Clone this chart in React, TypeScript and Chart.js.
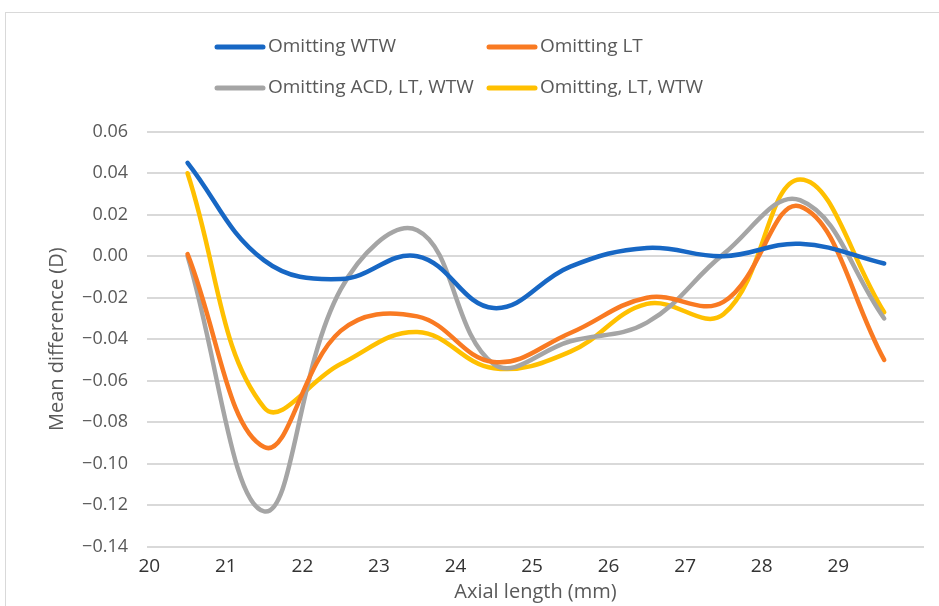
import React, { useEffect, useRef } from "react";
import { Chart, registerables } from "chart.js";

Chart.register(...registerables);

// Axial length (mm) at which each mean difference was computed
const axialLength = [20.5, 21.5, 22.5, 23.5, 24.5, 25.5, 26.5, 27.5, 28.5, 29.6];

// Mean difference (D) for each variant
const omittingWTW = [0.045, -0.002, -0.011, 0.0, -0.025, -0.005, 0.004, 0.0, 0.006, -0.0035];
const omittingLT = [0.001, -0.092, -0.036, -0.029, -0.051, -0.037, -0.02, -0.022, 0.024, -0.05];
const omittingACDLTWTW = [0.0, -0.123, -0.016, 0.0125, -0.052, -0.041, -0.032, 0.001, 0.027, -0.03];
const omittingLTWTW = [0.04, -0.073, -0.052, -0.0365, -0.054, -0.046, -0.023, -0.028, 0.037, -0.027];

const seriesLabels = ["Omitting WTW", "Omitting LT", "Omitting ACD, LT, WTW", "Omitting, LT, WTW"];
const seriesColors = ["#1767C4", "#F97A22", "#A5A5A5", "#FFC000"];
const seriesValues = [omittingWTW, omittingLT, omittingACDLTWTW, omittingLTWTW];

const xTickValues = [20, 21, 22, 23, 24, 25, 26, 27, 28, 29];
const yMin = -0.14;
const yMax = 0.06;
const yStep = 0.02;

const FONT = '"Open Sans", "Noto Sans", sans-serif';

const gridLegend = {
  id: "gridLegend",
  afterDraw(chart: any) {
    const ctx = chart.ctx;
    const cols = [215, 487];
    const rows = [47, 88];
    chart.data.datasets.forEach((ds: any, i: number) => {
      const x = cols[i % 2];
      const y = rows[Math.floor(i / 2)];
      ctx.save();
      ctx.strokeStyle = ds.borderColor;
      ctx.lineWidth = 5;
      ctx.lineCap = "round";
      ctx.beginPath();
      ctx.moveTo(x + 2, y);
      ctx.lineTo(x + 48, y);
      ctx.stroke();
      ctx.fillStyle = "#595959";
      ctx.font = `19px ${FONT}`;
      ctx.textBaseline = "middle";
      ctx.textAlign = "left";
      ctx.fillText(ds.label, x + 53, y);
      ctx.restore();
    });
  },
};

function formatY(v: number) {
  if (Math.abs(v) < 1e-9) return "0.00";
  return (v < 0 ? "\u2212" : "") + Math.abs(v).toFixed(2);
}

export default function App() {
  const canvasRef = useRef<HTMLCanvasElement | null>(null);

  useEffect(() => {
    if (!canvasRef.current) return;
    const datasets = seriesLabels.map((label, i) => ({
      label,
      data: axialLength.map((x, j) => ({ x, y: seriesValues[i][j] })),
      borderColor: seriesColors[i],
      backgroundColor: seriesColors[i],
      borderWidth: 4.5,
      borderCapStyle: "round" as const,
      borderJoinStyle: "round" as const,
      pointRadius: 0,
      pointHoverRadius: 0,
      tension: 0.4,
      fill: false,
    }));

    const chart = new Chart(canvasRef.current, {
      type: "line",
      data: { datasets },
      plugins: [gridLegend],
      options: {
        responsive: false,
        animation: false,
        layout: { padding: { top: 131.7, right: 15, left: 0, bottom: 0 } },
        plugins: {
          legend: { display: false },
          tooltip: { enabled: false },
          title: { display: false },
        },
        scales: {
          x: {
            type: "linear",
            min: 19.97,
            max: 30.12,
            afterBuildTicks: (scale: any) => {
              scale.ticks = xTickValues.map((v) => ({ value: v }));
            },
            afterFit: (scale: any) => {
              scale.height = 59.3;
            },
            grid: { display: false, drawTicks: false },
            border: { display: false },
            ticks: {
              padding: 8,
              color: "#333333",
              font: { family: FONT, size: 19 },
              maxRotation: 0,
              autoSkip: false,
              callback: (v: any) => String(v),
            },
            title: {
              display: true,
              text: "Axial length (mm)",
              color: "#595959",
              font: { family: FONT, size: 20 },
              padding: { top: 0, bottom: 2 },
            },
          },
          y: {
            type: "linear",
            min: yMin,
            max: yMax,
            afterFit: (scale: any) => {
              scale.width = 147;
            },
            grid: { color: "#d9d9d9", lineWidth: 2, drawTicks: false },
            border: { display: false },
            ticks: {
              stepSize: yStep,
              padding: 19,
              color: "#595959",
              font: { family: FONT, size: 18 },
              callback: (v: any) => formatY(Number(v)),
            },
            title: {
              display: true,
              text: "Mean difference (D)",
              color: "#595959",
              font: { family: FONT, size: 20 },
              padding: { top: 45, bottom: 0 },
            },
          },
        },
      },
    });
    return () => chart.destroy();
  }, []);

  return (
    <div
      style={{
        position: "absolute",
        left: 0,
        top: 0,
        width: 939,
        height: 606,
        overflow: "hidden",
        background: "#ffffff",
      }}
    >
      <div
        style={{
          position: "absolute",
          left: 5,
          top: 12,
          width: 960,
          height: 640,
          border: "1.5px solid #d9d9d9",
        }}
      />
      <canvas
        ref={canvasRef}
        width={939}
        height={606}
        style={{ position: "absolute", left: 0, top: 0, display: "block" }}
      />
    </div>
  );
}
